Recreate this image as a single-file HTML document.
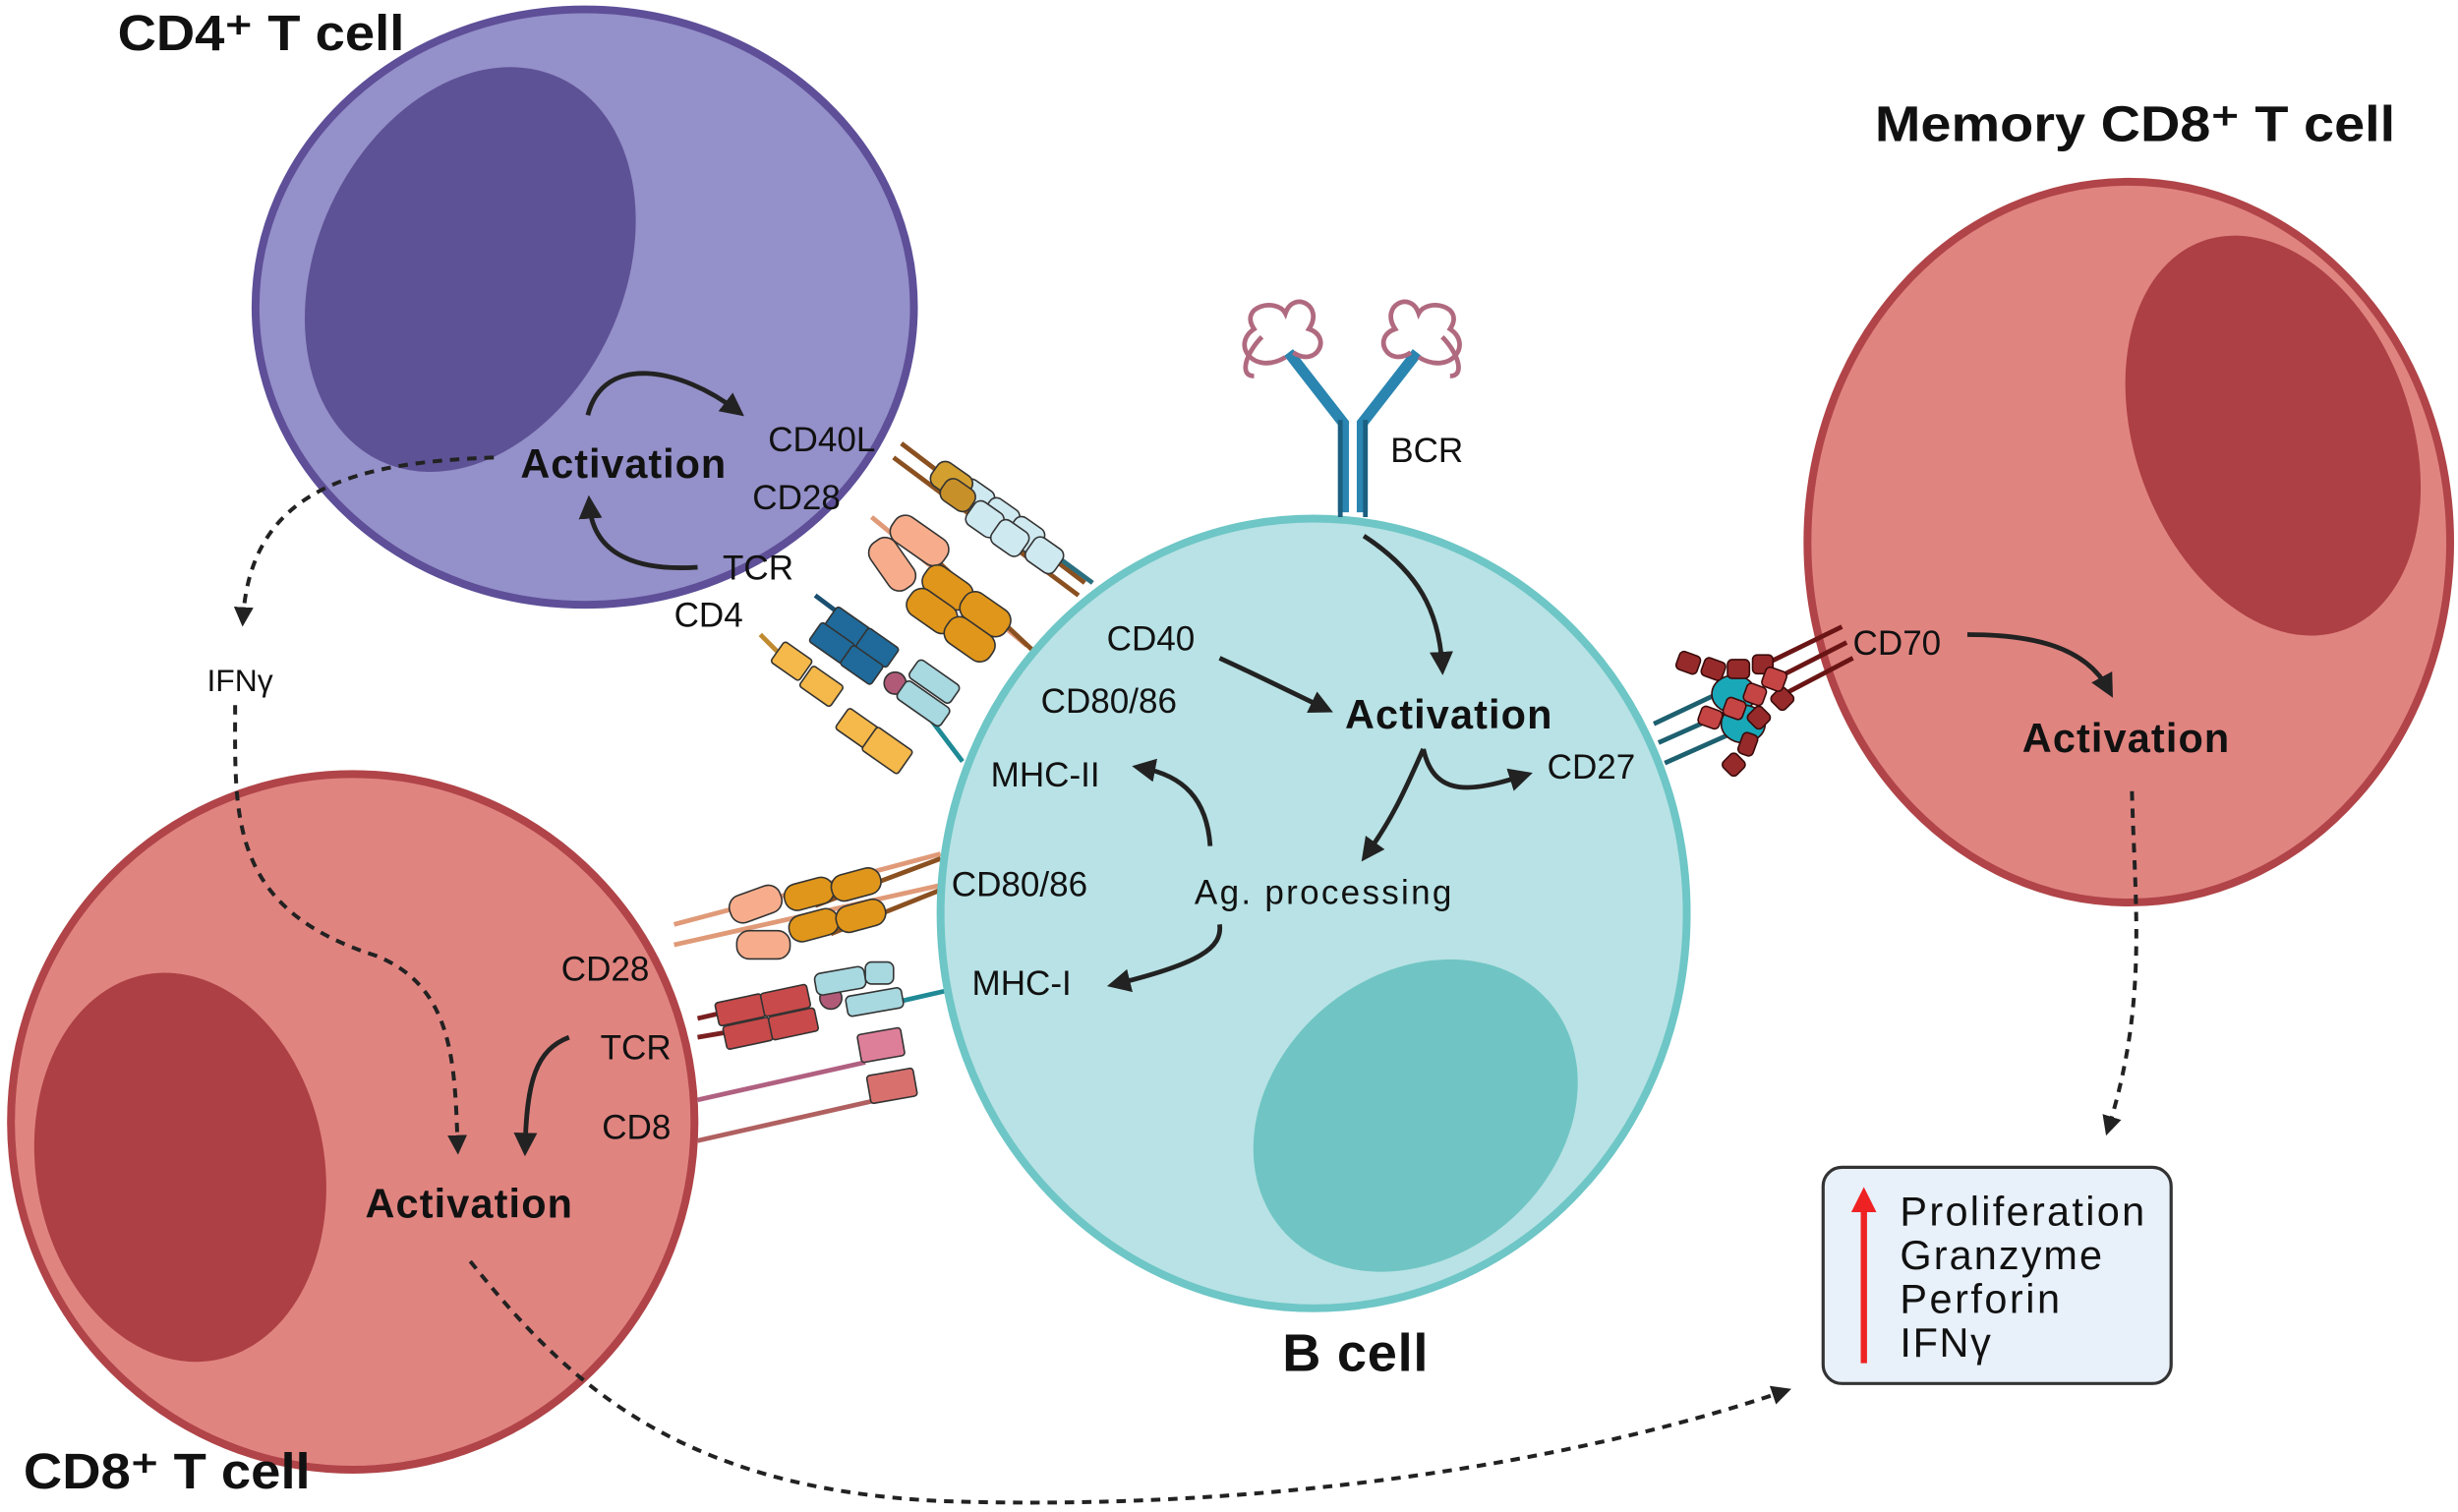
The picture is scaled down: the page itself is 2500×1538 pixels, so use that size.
<!DOCTYPE html>
<html><head><meta charset="utf-8"><style>
html,body{margin:0;padding:0;background:#fff;}
svg{display:block;}
text{font-family:"Liberation Sans",sans-serif;fill:#111;}
.b{font-weight:bold;}
</style></head><body>
<svg width="2500" height="1538" viewBox="0 0 1568 965" preserveAspectRatio="none" xmlns="http://www.w3.org/2000/svg">
<defs>
<marker id="ah" viewBox="0 0 10 10" refX="6" refY="5" markerWidth="5" markerHeight="5" orient="auto"><path d="M0,0 L10,5 L0,10 z" fill="#222"/></marker>
<marker id="ahr" viewBox="0 0 10 10" refX="6" refY="5" markerWidth="4" markerHeight="4" orient="auto"><path d="M0,0 L10,5 L0,10 z" fill="#e22"/></marker>
</defs>

<!-- CD4 T cell -->
<ellipse cx="373" cy="196" rx="210" ry="190" fill="#9490c9" stroke="#5e4f98" stroke-width="5"/>
<ellipse cx="300" cy="172" rx="98" ry="135" transform="rotate(25 300 172)" fill="#5e5296"/>

<!-- CD8 T cell -->
<ellipse cx="225" cy="716" rx="218" ry="222" fill="#e08480" stroke="#b04448" stroke-width="5"/>
<ellipse cx="115" cy="745" rx="92" ry="125" transform="rotate(-10 115 745)" fill="#ad4044"/>

<!-- Memory CD8 -->
<ellipse cx="1358" cy="346" rx="205" ry="230" fill="#e08480" stroke="#b04448" stroke-width="5"/>
<ellipse cx="1450" cy="278" rx="88" ry="132" transform="rotate(-20 1450 278)" fill="#ad4044"/>

<!-- connectors upper -->
<g stroke-width="3" fill="none">
<line x1="575" y1="283" x2="692" y2="372" stroke="#8a5020"/>
<line x1="570" y1="292" x2="688" y2="380" stroke="#8a5020"/>
<line x1="640" y1="330" x2="697" y2="372" stroke="#2a6f80"/>
<line x1="556" y1="330" x2="655" y2="412" stroke="#e09a78"/>
<line x1="600" y1="360" x2="662" y2="418" stroke="#8a5020"/>
<line x1="520" y1="380" x2="560" y2="410" stroke="#1a4f70"/>
<line x1="583" y1="445" x2="614" y2="486" stroke="#1f8a95"/>
<line x1="485" y1="405" x2="510" y2="430" stroke="#c08a30"/>
<!-- lower -->
<line x1="430" y1="590" x2="600" y2="545" stroke="#e09a78"/>
<line x1="430" y1="603" x2="600" y2="565" stroke="#e09a78"/>
<line x1="520" y1="578" x2="600" y2="548" stroke="#8a5020"/>
<line x1="530" y1="596" x2="600" y2="568" stroke="#8a5020"/>
<line x1="445" y1="650" x2="480" y2="642" stroke="#7a1f20"/>
<line x1="445" y1="662" x2="480" y2="656" stroke="#7a1f20"/>
<line x1="570" y1="640" x2="605" y2="632" stroke="#1f8a95"/>
<line x1="445" y1="702" x2="552" y2="678" stroke="#b06080"/>
<line x1="445" y1="728" x2="560" y2="702" stroke="#b06060"/>
<!-- right -->
<line x1="1055" y1="462" x2="1110" y2="436" stroke="#1d6070"/>
<line x1="1058" y1="474" x2="1112" y2="450" stroke="#1d6070"/>
<line x1="1062" y1="487" x2="1116" y2="463" stroke="#1d6070"/>
<line x1="1175" y1="400" x2="1130" y2="422" stroke="#6a1515"/>
<line x1="1178" y1="410" x2="1135" y2="432" stroke="#6a1515"/>
<line x1="1182" y1="420" x2="1140" y2="442" stroke="#6a1515"/>
</g>

<!-- upper receptor blocks -->
<g stroke="#333" stroke-width="1">
<g fill="#cfe9f0"><rect x="612" y="308" width="22" height="18" rx="5" transform="rotate(35 622 316)"/><rect x="628" y="320" width="22" height="18" rx="5" transform="rotate(35 638 328)"/><rect x="644" y="332" width="22" height="18" rx="5" transform="rotate(35 654 340)"/><rect x="656" y="345" width="22" height="18" rx="5" transform="rotate(35 666 353)"/><rect x="618" y="322" width="22" height="18" rx="5" transform="rotate(35 628 330)"/><rect x="634" y="334" width="22" height="18" rx="5" transform="rotate(35 644 342)"/></g>
<rect x="594" y="298" width="26" height="18" rx="6" transform="rotate(35 607 307)" fill="#d3a030"/>
<rect x="600" y="308" width="22" height="16" rx="6" transform="rotate(35 611 316)" fill="#c89028"/>
<g fill="#f7ad8c"><rect x="567" y="335" width="40" height="19" rx="8" transform="rotate(35 586 344)"/><rect x="552" y="350" width="36" height="19" rx="8" transform="rotate(55 569 359)"/></g>
<g fill="#e0961a"><rect x="588" y="365" width="34" height="19" rx="8" transform="rotate(35 604 374)"/><rect x="612" y="382" width="34" height="19" rx="8" transform="rotate(35 628 391)"/><rect x="578" y="380" width="34" height="19" rx="8" transform="rotate(35 594 389)"/><rect x="602" y="398" width="34" height="19" rx="8" transform="rotate(35 618 407)"/></g>
<g fill="#1f6a9a"><rect x="528" y="393" width="26" height="15" rx="2" transform="rotate(35 541 400)"/><rect x="548" y="406" width="24" height="15" rx="2" transform="rotate(35 560 413)"/><rect x="518" y="403" width="26" height="15" rx="2" transform="rotate(35 531 410)"/><rect x="538" y="417" width="24" height="15" rx="2" transform="rotate(35 550 424)"/></g>
<circle cx="571" cy="436" r="7" fill="#b05a78"/>
<g fill="#a8d8e0"><rect x="580" y="428" width="32" height="14" rx="3" transform="rotate(35 596 435)"/><rect x="572" y="442" width="34" height="14" rx="3" transform="rotate(35 589 449)"/></g>
<g fill="#f5b84a"><rect x="494" y="414" width="22" height="16" rx="2" transform="rotate(35 505 422)"/><rect x="512" y="430" width="24" height="16" rx="2" transform="rotate(35 524 438)"/><rect x="535" y="457" width="24" height="16" rx="2" transform="rotate(35 547 465)"/><rect x="552" y="470" width="28" height="18" rx="2" transform="rotate(35 566 479)"/></g>
</g>

<!-- lower receptor blocks -->
<g stroke="#333" stroke-width="1">
<g fill="#f7ad8c"><rect x="465" y="568" width="34" height="18" rx="8" transform="rotate(-20 482 577)"/><rect x="470" y="594" width="34" height="18" rx="8" transform="rotate(0 487 603)"/></g>
<g fill="#e0961a"><rect x="500" y="562" width="32" height="17" rx="8" transform="rotate(-15 516 570)"/><rect x="530" y="556" width="32" height="17" rx="8" transform="rotate(-15 546 564)"/><rect x="503" y="582" width="32" height="17" rx="8" transform="rotate(-15 519 590)"/><rect x="533" y="576" width="32" height="17" rx="8" transform="rotate(-15 549 584)"/></g>
<g fill="#c94a4a"><rect x="457" y="637" width="30" height="15" rx="2" transform="rotate(-12 472 644)"/><rect x="486" y="631" width="30" height="15" rx="2" transform="rotate(-12 501 638)"/><rect x="462" y="652" width="30" height="15" rx="2" transform="rotate(-12 477 659)"/><rect x="491" y="646" width="30" height="15" rx="2" transform="rotate(-12 506 653)"/></g>
<circle cx="530" cy="637" r="7" fill="#b05a78"/>
<g fill="#a8d8e0"><rect x="520" y="619" width="32" height="14" rx="4" transform="rotate(-10 536 626)"/><rect x="552" y="614" width="18" height="14" rx="4"/><rect x="540" y="633" width="36" height="13" rx="3" transform="rotate(-10 558 640)"/></g>
<rect x="548" y="658" width="28" height="18" rx="2" transform="rotate(-10 562 667)" fill="#de7f9a"/>
<rect x="554" y="684" width="30" height="18" rx="2" transform="rotate(-10 569 693)" fill="#d8706e"/>
</g>

<!-- right receptor blobs -->
<g stroke="#3a0a0a" stroke-width="1">
<ellipse cx="1106" cy="443" rx="14" ry="12" fill="#18a8b8"/>
<ellipse cx="1112" cy="462" rx="14" ry="12" fill="#18a8b8"/>
<g fill="#962a2a"><rect x="1070" y="417" width="14" height="12" rx="3" transform="rotate(20 1077 423)"/><rect x="1086" y="421" width="14" height="12" rx="3" transform="rotate(20 1093 427)"/><rect x="1102" y="421" width="14" height="12" rx="3"/><rect x="1118" y="418" width="13" height="12" rx="3"/><rect x="1131" y="440" width="12" height="12" rx="3" transform="rotate(45 1137 446)"/><rect x="1116" y="452" width="12" height="12" rx="3" transform="rotate(45 1122 458)"/><rect x="1110" y="468" width="10" height="14" rx="3" transform="rotate(20 1115 475)"/><rect x="1100" y="482" width="12" height="12" rx="3" transform="rotate(45 1106 488)"/></g>
<g fill="#c54545"><rect x="1125" y="427" width="14" height="13" rx="3" transform="rotate(20 1132 433)"/><rect x="1113" y="437" width="13" height="12" rx="3" transform="rotate(20 1119 443)"/><rect x="1100" y="446" width="13" height="12" rx="3" transform="rotate(20 1106 452)"/><rect x="1084" y="452" width="14" height="12" rx="3" transform="rotate(20 1091 458)"/></g>
</g>

<!-- B cell -->
<ellipse cx="838" cy="583" rx="238" ry="252" fill="#b8e2e5" stroke="#6ec6c6" stroke-width="5"/>
<ellipse cx="903" cy="712" rx="112" ry="90" transform="rotate(-40 903 712)" fill="#70c5c4"/>

<!-- BCR -->
<g fill="none" stroke-width="7" stroke="#2a85b0">
<path d="M857 327 L857 270 L822 225"/><path d="M869 327 L869 270 L904 225"/>
</g>
<g fill="none" stroke-width="3" stroke="#1b5f80"><path d="M855 330 L855 268 M871 330 L871 268"/></g>
<g fill="none" stroke="#b06a80" stroke-width="3">
<path d="M820 228 C800 240 785 220 800 210 C790 195 815 190 820 200 C825 185 845 195 835 210 C850 215 840 235 825 225 M805 215 C795 225 790 240 800 240"/>
<path d="M905 228 C925 240 940 220 925 210 C935 195 910 190 905 200 C900 185 880 195 890 210 C875 215 885 235 900 225 M920 215 C930 225 935 240 925 240"/>
</g>

<!-- result box -->
<rect x="1163" y="745" width="222" height="138" rx="12" fill="#e8f0fa" stroke="#333" stroke-width="2"/>
<line x1="1189" y1="870" x2="1189" y2="764" stroke="#e22" stroke-width="4" marker-end="url(#ahr)"/>
<text x="1212" y="782" font-size="26" textLength="156">Proliferation</text>
<text x="1212" y="810" font-size="26" textLength="129">Granzyme</text>
<text x="1212" y="838" font-size="26" textLength="102">Perforin</text>
<text x="1212" y="866" font-size="26" textLength="58">IFNγ</text>

<!-- solid arrows -->
<g fill="none" stroke="#222" stroke-width="3" marker-end="url(#ah)">
<path d="M375 265 C385 225 435 235 470 262"/>
<path d="M445 362 C400 365 378 350 376 322"/>
<path d="M870 342 C905 365 918 390 920 425"/>
<path d="M778 420 C800 430 820 440 845 452"/>
<path d="M908 478 C915 510 940 505 972 495"/>
<path d="M908 478 C898 500 890 520 872 545"/>
<path d="M772 540 C770 510 755 495 728 490"/>
<path d="M778 590 C780 605 765 615 712 628"/>
<path d="M1255 405 C1295 405 1330 412 1345 440"/>
<path d="M363 662 C342 670 336 690 335 732"/>
</g>
<!-- dashed arrows -->
<g fill="none" stroke="#222" stroke-width="2.5" stroke-dasharray="6,5" marker-end="url(#ah)">
<path d="M315 292 C230 295 160 310 155 395"/>
<path d="M150 450 C150 520 145 580 240 610 C290 630 290 680 292 732"/>
<path d="M300 805 C360 880 430 950 600 958 C800 965 1000 935 1138 888"/>
<path d="M1360 505 C1362 580 1370 640 1345 720"/>
</g>

<!-- titles -->
<text x="75" y="32" font-size="32" class="b" textLength="183" lengthAdjust="spacingAndGlyphs">CD4⁺ T cell</text>
<text x="1196" y="90" font-size="32" class="b" textLength="332" lengthAdjust="spacingAndGlyphs">Memory CD8⁺ T cell</text>
<text x="15" y="950" font-size="32" class="b" textLength="183" lengthAdjust="spacingAndGlyphs">CD8⁺ T cell</text>
<text x="818" y="875" font-size="34" class="b" textLength="93">B cell</text>

<text x="332" y="305" font-size="26" class="b" textLength="131">Activation</text>
<text x="858" y="465" font-size="26" class="b" textLength="132">Activation</text>
<text x="1290" y="480" font-size="26" class="b" textLength="132">Activation</text>
<text x="233" y="777" font-size="26" class="b" textLength="132">Activation</text>

<g font-size="22">
<text x="490" y="288">CD40L</text>
<text x="480" y="325">CD28</text>
<text x="461" y="370">TCR</text>
<text x="430" y="400">CD4</text>
<text x="132" y="441" font-size="20">IFNγ</text>
<text x="887" y="295">BCR</text>
<text x="706" y="415">CD40</text>
<text x="664" y="455">CD80/86</text>
<text x="632" y="502">MHC-II</text>
<text x="987" y="497">CD27</text>
<text x="607" y="572">CD80/86</text>
<text x="762" y="577" textLength="164">Ag. processing</text>
<text x="620" y="635">MHC-I</text>
<text x="358" y="626">CD28</text>
<text x="383" y="676">TCR</text>
<text x="384" y="727">CD8</text>
<text x="1182" y="418">CD70</text>
</g>
</svg>
</body></html>
